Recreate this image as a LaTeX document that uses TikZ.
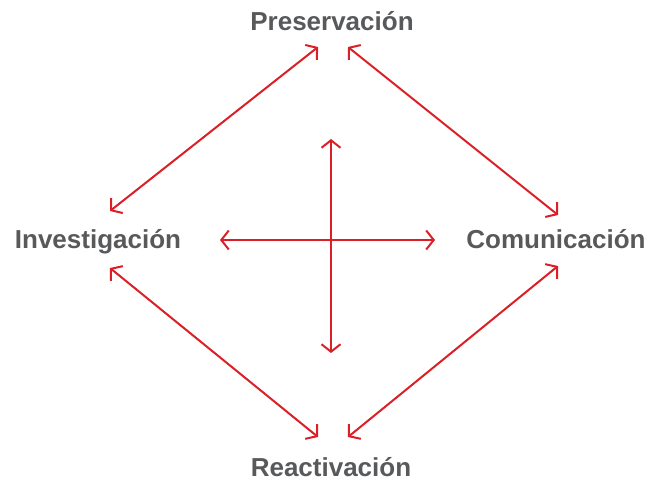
\documentclass[tikz,border=0pt]{standalone}
\usepackage{fontspec}
\setmainfont{Liberation Sans}
\usetikzlibrary{arrows.meta}

\definecolor{textgrey}{HTML}{58595B}
\definecolor{linered}{HTML}{DA1F26}

\tikzset{
  stage/.style={anchor=base, text=textgrey, font=\fontsize{26}{30}\selectfont\bfseries, inner sep=0pt},
  link/.style={draw=linered, line width=2pt, {Straight Barb[length=7.5pt, width=19pt, line width=2pt]}-{Straight Barb[length=7.5pt, width=19pt, line width=2pt]}}
}

\begin{document}
\begin{tikzpicture}[x=1pt, y=-1pt]

  \useasboundingbox (0,0) rectangle (651,480);

  % --- Stage labels ---
  \node[stage] (pres) at (332,30) {Preservación};
  \node[stage] (inve) at (98,248) {Investigación};
  \node[stage] (comu) at (556,248) {Comunicación};
  \node[stage] (reac) at (331,476) {Reactivación};

  % --- Arrow ends near the labels ---
  \coordinate (presL) at (318,47);
  \coordinate (presR) at (348,47);
  \coordinate (inveT) at (110,211);
  \coordinate (inveB) at (110,268);
  \coordinate (comuT) at (558,215);
  \coordinate (comuB) at (558,266);
  \coordinate (reacL) at (318,437);
  \coordinate (reacR) at (348,437);

  % --- Outer diamond ---
  \draw[link] (presL) -- (inveT);
  \draw[link] (presR) -- (comuT);
  \draw[link] (inveB) -- (reacL);
  \draw[link] (comuB) -- (reacR);

  % --- Centre cross ---
  \coordinate (west) at (220,240);
  \coordinate (east) at (435,240);
  \coordinate (north) at (331,139);
  \coordinate (south) at (331,353);
  \draw[link] (west) -- (east);
  \draw[link] (north) -- (south);

\end{tikzpicture}
\end{document}
